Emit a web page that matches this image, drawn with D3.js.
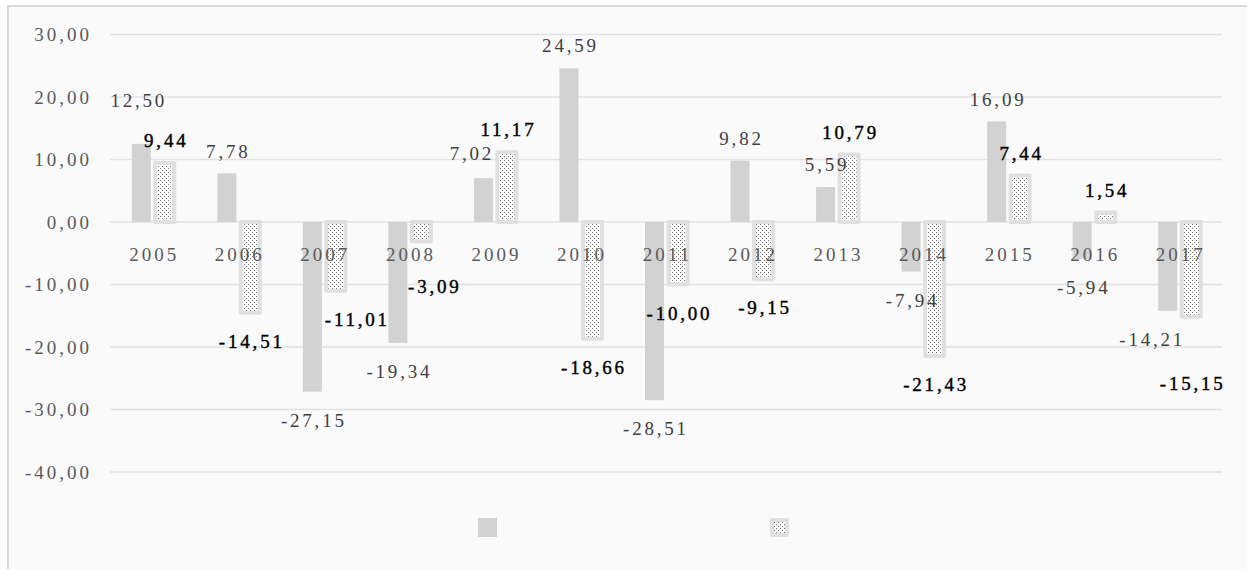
<!DOCTYPE html>
<html>
<head>
<meta charset="utf-8">
<script src="https://cdn.jsdelivr.net/npm/d3@7"></script>
<style>
  body { margin: 0; background: #fff; }
  svg text { font-family: "Liberation Serif", "Times New Roman", serif; }
</style>
</head>
<body>
<svg id="chart" width="1247" height="569"></svg>
<script>
// chart data
var years = ['2005','2006','2007','2008','2009','2010','2011','2012','2013','2014','2015','2016','2017'];
var series_a = [12.50, 7.78, -27.15, -19.34, 7.02, 24.59, -28.51, 9.82, 5.59, -7.94, 16.09, -5.94, -14.21];
var series_b = [9.44, -14.51, -11.01, -3.09, 11.17, -18.66, -10.00, -9.15, 10.79, -21.43, 7.44, 1.54, -15.15];
var y_ticks = [30, 20, 10, 0, -10, -20, -30, -40];

// a few labels were dragged by hand in the original: [index, dx, dy]
var nudge_a = [[0, -4, -21], [4, -13, -2], [12, -17, 0]];
var nudge_b = [[2, 20, 0], [3, 12, 17], [12, 0, 38]];

var svg = d3.select('#chart');
var locale = d3.formatLocale({decimal: ',', thousands: ' ', grouping: [3], currency: ['', ''], minus: '-'});
var fmt = locale.format('.2f');

var defs = svg.append('defs');
var pat = defs.append('pattern')
  .attr('id', 'dots')
  .attr('patternUnits', 'userSpaceOnUse')
  .attr('width', 4)
  .attr('height', 4);
pat.append('rect').attr('width', 4).attr('height', 4).attr('fill', '#fff');
pat.append('rect').attr('x', 0).attr('y', 0).attr('width', 1).attr('height', 1).attr('fill', '#6a6a6a');
pat.append('rect').attr('x', 2).attr('y', 2).attr('width', 1).attr('height', 1).attr('fill', '#6a6a6a');

// chart frame
svg.append('rect')
  .attr('x', 8).attr('y', 6)
  .attr('width', 1260).attr('height', 580)
  .attr('fill', '#fafafa')
  .attr('stroke', '#d9d9d9')
  .attr('stroke-width', 2);

var x = d3.scaleBand().domain(years).range([110, 1222]);
var x1 = d3.scaleBand().domain([0, 1]).range([-21, 26]);
var y = d3.scaleLinear().domain([-40, 30]).range([472, 34.5]);
var bar_w = 19;

// grid lines
svg.append('g')
  .selectAll('.horz_lines')
  .data(y_ticks)
  .enter()
  .append('line')
  .attr('class', 'horz_lines')
  .attr('x1', 110)
  .attr('x2', 1222)
  .attr('y1', function(d){ return y(d); })
  .attr('y2', function(d){ return y(d); })
  .style('stroke', '#e2e2e2')
  .style('stroke-width', '1.5px');

// y tick labels
svg.append('g')
  .selectAll('text')
  .data(y_ticks)
  .enter()
  .append('text')
  .attr('x', 92)
  .attr('y', function(d){ return y(d); })
  .attr('dy', '0.35em')
  .attr('text-anchor', 'end')
  .style('font-size', '19px')
  .style('letter-spacing', '3px')
  .style('fill', '#595959')
  .text(fmt);

function center(i){ return x(years[i]) + x.bandwidth() / 2; }

// solid bars
svg.append('g')
  .selectAll('rect')
  .data(series_a)
  .enter()
  .append('rect')
  .attr('x', function(d, i){ return center(i) + x1(0); })
  .attr('y', function(d){ return y(Math.max(0, d)); })
  .attr('width', bar_w)
  .attr('height', function(d){ return Math.abs(y(d) - y(0)); })
  .attr('fill', '#d2d2d2');

// dotted bars
svg.append('g')
  .selectAll('rect')
  .data(series_b)
  .enter()
  .append('rect')
  .attr('x', function(d, i){ return center(i) + x1(1); })
  .attr('y', function(d){ return y(Math.max(0, d)); })
  .attr('width', bar_w)
  .attr('height', function(d){ return Math.abs(y(d) - y(0)); })
  .attr('fill', 'url(#dots)')
  .attr('stroke', '#e0e0e0')
  .attr('stroke-width', 4)
  .attr('stroke-linejoin', 'round');

// category labels, sitting just under the zero line
svg.append('g')
  .selectAll('text')
  .data(years)
  .enter()
  .append('text')
  .attr('x', function(d, i){ return center(i) + 1.5; })
  .attr('y', 254)
  .attr('dy', '0.35em')
  .attr('text-anchor', 'middle')
  .style('font-size', '19px')
  .style('letter-spacing', '3px')
  .style('fill', '#595959')
  .text(function(d){ return d; });

function draw_labels(values, k, nudge, color, stroke) {
  var shift = {};
  nudge.forEach(function(n){ shift[n[0]] = n; });
  svg.append('g')
    .selectAll('text')
    .data(values)
    .enter()
    .append('text')
    .attr('x', function(d, i){
      var dx = shift[i] ? shift[i][1] : 0;
      return center(i) + x1(k) + bar_w / 2 + 1.5 + dx;
    })
    .attr('y', function(d, i){
      var dy = shift[i] ? shift[i][2] : 0;
      return (d >= 0 ? y(d) - 22.5 : y(d) + 28.5) + dy;
    })
    .attr('dy', '0.35em')
    .attr('text-anchor', 'middle')
    .style('font-size', '19px')
    .style('letter-spacing', '2.8px')
    .style('fill', color)
    .style('stroke', stroke)
    .style('stroke-width', stroke === 'none' ? 0 : '0.4px')
    .text(fmt);
}
draw_labels(series_a, 0, nudge_a, '#404040', 'none');
draw_labels(series_b, 1, nudge_b, '#000', '#000');

// legend (series names are empty)
var legend = svg.append('g');
legend.append('rect')
  .attr('x', 478).attr('y', 518)
  .attr('width', 19).attr('height', 19)
  .attr('fill', '#d2d2d2');
legend.append('rect')
  .attr('x', 772).attr('y', 520)
  .attr('width', 15).attr('height', 15)
  .attr('fill', 'url(#dots)')
  .attr('stroke', '#e0e0e0')
  .attr('stroke-width', 4)
  .attr('stroke-linejoin', 'round');
</script>
</body>
</html>
